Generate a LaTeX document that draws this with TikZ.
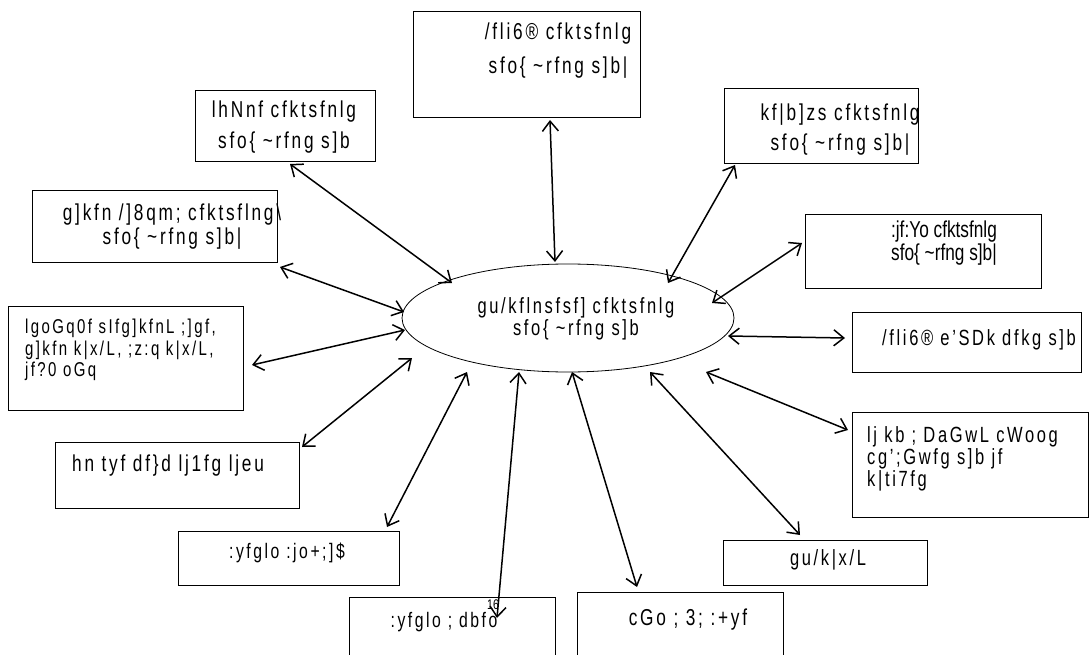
\documentclass[tikz,border=0pt]{standalone}
\usepackage{fontspec}
\setmainfont{Liberation Sans}[FakeStretch=0.75, LetterSpace=12]
\newfontfamily\nls{Liberation Sans}[FakeStretch=0.75]
\usetikzlibrary{arrows.meta,shapes.geometric}
\begin{document}
\begin{tikzpicture}[x=1pt,y=-1pt,
  box/.style={draw, line width=1.1pt, inner sep=0, anchor=north west},
  txt/.style={inner sep=0, align=center, font=\fontsize{23}{31}\selectfont},
  txtl/.style={inner sep=0, align=left, anchor=west, font=\fontsize{22}{22}\selectfont},
  link/.style={line width=1.5pt, {Straight Barb[length=10pt,width=16pt]}-{Straight Barb[length=10pt,width=16pt]}}]
\useasboundingbox (0,0) rectangle (1090,655);
\clip (0,0) rectangle (1090,655);

% centre ellipse
\node[draw, ellipse, line width=0.8pt, minimum width=332pt, minimum height=108pt, inner sep=0] (ell) at (568,318) {};
\node[txt, font=\fontsize{22}{20}\selectfont] (ellt) at (576,319) {gu/kflnsfsf] cfktsfnlg\\sfo\{ \textasciitilde rfng s]b};

% boxes
\node[box, minimum width=227pt, minimum height=106pt] (b1) at (413,11) {};
\node[txt, font=\fontsize{23}{34}\selectfont] (t1) at (558,51) {/fli6® cfktsfnlg\\ sfo\{ \textasciitilde rfng s]b|};

\node[box, minimum width=180pt, minimum height=71pt] (b2) at (195,90) {};
\node[txt, font=\fontsize{23}{31}\selectfont] (t2) at (284,127) {lhNnf cfktsfnlg\\sfo\{ \textasciitilde rfng s]b};

\node[box, minimum width=194pt, minimum height=75pt] (b3) at (724,88) {};
\node[txt, font=\fontsize{23}{30}\selectfont] (t3) at (840,130) {kf|b]zs cfktsfnlg\\ sfo\{ \textasciitilde rfng s]b|};

\node[box, minimum width=245pt, minimum height=72pt] (b4) at (32,190) {};
\node[txt, font=\fontsize{23}{24}\selectfont] (t4) at (172,227) {g]kfn /]8qm; cfktsflng\textbackslash\\ sfo\{ \textasciitilde rfng s]b|};

\node[box, minimum width=236pt, minimum height=74pt] (b5) at (805,214) {};
\node[txt, font=\nls\fontsize{23}{21}\selectfont] (t5) at (944,243) {:jf:Yo cfktsfnlg\\ sfo\{ \textasciitilde rfng s]b|};

\node[box, minimum width=235pt, minimum height=104pt] (b6) at (8,306) {};
\node[txtl, font=\fontsize{20}{21.5}\selectfont] (t6) at (25,350) {lgoGq0f sIfg]kfnL ;]gf,\\g]kfn k|x/L, ;z:q k|x/L,\\jf?0 oGq};

\node[box, minimum width=229pt, minimum height=60pt] (b7) at (852,312) {};
\node[txtl] (t7) at (882,340) {/fli6® e'SDk dfkg s]b};

\node[box, minimum width=244pt, minimum height=66pt] (b8) at (55,442) {};
\node[txtl, font=\fontsize{23}{22}\selectfont] (t8) at (72,466) {hn tyf df\}d lj1fg ljeu};

\node[box, minimum width=236pt, minimum height=105pt] (b9) at (852,412) {};
\node[txtl] (t9) at (867,459) {lj kb ; DaGwL cWoog\\cg';Gwfg s]b jf\\k|ti7fg};

\node[box, minimum width=221pt, minimum height=54pt] (b10) at (178,531) {};
\node[txt, font=\fontsize{21}{20}\selectfont] (t10) at (287,553) {:yfglo :jo+;]\$};

\node[box, minimum width=206pt, minimum height=70pt] (b11) at (349,597) {};
\node[txt, font=\fontsize{21}{21}\selectfont] (t11) at (444,622) {:yfglo ; dbfo};

\node[box, minimum width=206pt, minimum height=65pt] (b12) at (577,592) {};
\node[txt] (t12) at (688,620) {cGo ; 3; :+yf};

\node[box, minimum width=204pt, minimum height=45pt] (b13) at (723,540) {};
\node[txt, font=\fontsize{22}{21}\selectfont] (t13) at (828,560) {gu/k|x/L};

\node[inner sep=0, font=\nls\fontsize{14}{14}\selectfont] (n16) at (493,605) {16};

% connector end points
\coordinate (p1a) at (550,120); \coordinate (p1b) at (555,262);
\coordinate (p2a) at (290,164); \coordinate (p2b) at (452,283);
\coordinate (p3a) at (735,165); \coordinate (p3b) at (668,283);
\coordinate (p4a) at (280,267); \coordinate (p4b) at (404,312);
\coordinate (p5a) at (802,243); \coordinate (p5b) at (712,303);
\coordinate (p6a) at (252,365); \coordinate (p6b) at (405,330);
\coordinate (p7a) at (845,338); \coordinate (p7b) at (728,336);
\coordinate (p8a) at (302,447); \coordinate (p8b) at (412,358);
\coordinate (p9a) at (848,430); \coordinate (p9b) at (706,372);
\coordinate (p10a) at (387,527); \coordinate (p10b) at (467,372);
\coordinate (p11a) at (497,618); \coordinate (p11b) at (519,372);
\coordinate (p12a) at (637,587); \coordinate (p12b) at (572,372);
\coordinate (p13a) at (800,535); \coordinate (p13b) at (650,372);

\foreach \i in {1,...,13} {\draw[link] (p\i a) -- (p\i b);}
\end{tikzpicture}
\end{document}
